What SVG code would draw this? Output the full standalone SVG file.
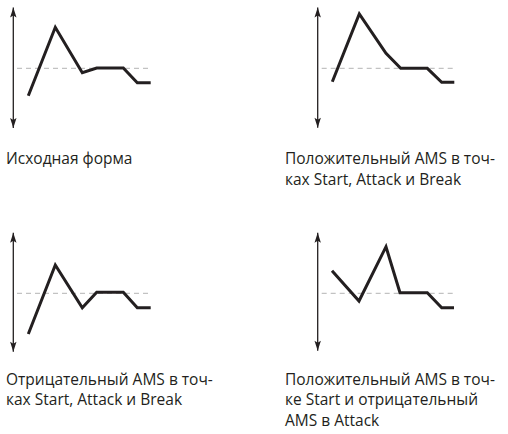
<svg xmlns="http://www.w3.org/2000/svg" width="508" height="434" viewBox="0 0 508 434">
<defs>
<marker id="ah" markerWidth="12" markerHeight="8" refX="0" refY="0" orient="auto-start-reverse" markerUnits="userSpaceOnUse" viewBox="-11 -4 12 8">
<path d="M-10,-3.2 L0,0 L-10,3.2 L-8,0 Z" fill="#231f20"/>
</marker>
</defs>
<style>
.axis{stroke:#231f20;stroke-width:1.3;fill:none}
.ref{stroke:#b3b3b3;stroke-width:1;stroke-dasharray:5,4;fill:none}
.env{stroke:#231f20;stroke-width:3;fill:none;stroke-linejoin:miter}
.lbl{font-family:"Open Sans","Noto Sans","DejaVu Sans",sans-serif;font-size:15.5px;fill:#231f20}
</style>
<rect width="508" height="434" fill="#fff"/>
<g id="graph1">
<line class="axis" x1="13.3" y1="7.5" x2="13.3" y2="128" marker-start="url(#ah)" marker-end="url(#ah)"/>
<line class="ref" x1="17" y1="68.3" x2="152" y2="68.3"/>
<polyline class="env" points="28.3,95.7 55.3,27.3 82.3,72.7 96.7,68 123.3,68 137.3,82.7 150.7,82.7"/>
<text class="lbl" x="6" y="164">Исходная форма</text>
</g>
<g id="graph2">
<line class="axis" x1="317.7" y1="7.5" x2="317.7" y2="127.7" marker-start="url(#ah)" marker-end="url(#ah)"/>
<line class="ref" x1="321.7" y1="68.3" x2="455" y2="68.3"/>
<polyline class="env" points="332.3,81.7 359.3,14 386,53.3 400.7,68.3 427.3,68.3 441.7,82.3 454.3,82.3"/>
<text class="lbl" x="285" y="164">Положительный AMS в точ-</text>
<text class="lbl" x="285" y="185">ках Start, Attack и Break</text>
</g>
<g id="graph3">
<line class="axis" x1="13.3" y1="232.7" x2="13.3" y2="351.7" marker-start="url(#ah)" marker-end="url(#ah)"/>
<line class="ref" x1="17" y1="293.3" x2="152" y2="293.3"/>
<polyline class="env" points="28.3,334 55.3,265 82.3,307.7 96.7,292.3 123.3,292.3 137.3,307.7 150.7,307.7"/>
<text class="lbl" x="6" y="384.5">Отрицательный AMS в точ-</text>
<text class="lbl" x="6" y="405">ках Start, Attack и Break</text>
</g>
<g id="graph4">
<line class="axis" x1="317.7" y1="232.7" x2="317.7" y2="350.7" marker-start="url(#ah)" marker-end="url(#ah)"/>
<line class="ref" x1="321.7" y1="293.3" x2="455" y2="293.3"/>
<polyline class="env" points="332,270.7 359,301 386,246.7 400,292.7 427.3,292.7 441.7,307.7 454,307.7"/>
<text class="lbl" x="285" y="384.5">Положительный AMS в точ-</text>
<text class="lbl" x="285" y="405">ке Start и отрицательный</text>
<text class="lbl" x="285" y="425.5">AMS в Attack</text>
</g>
</svg>
